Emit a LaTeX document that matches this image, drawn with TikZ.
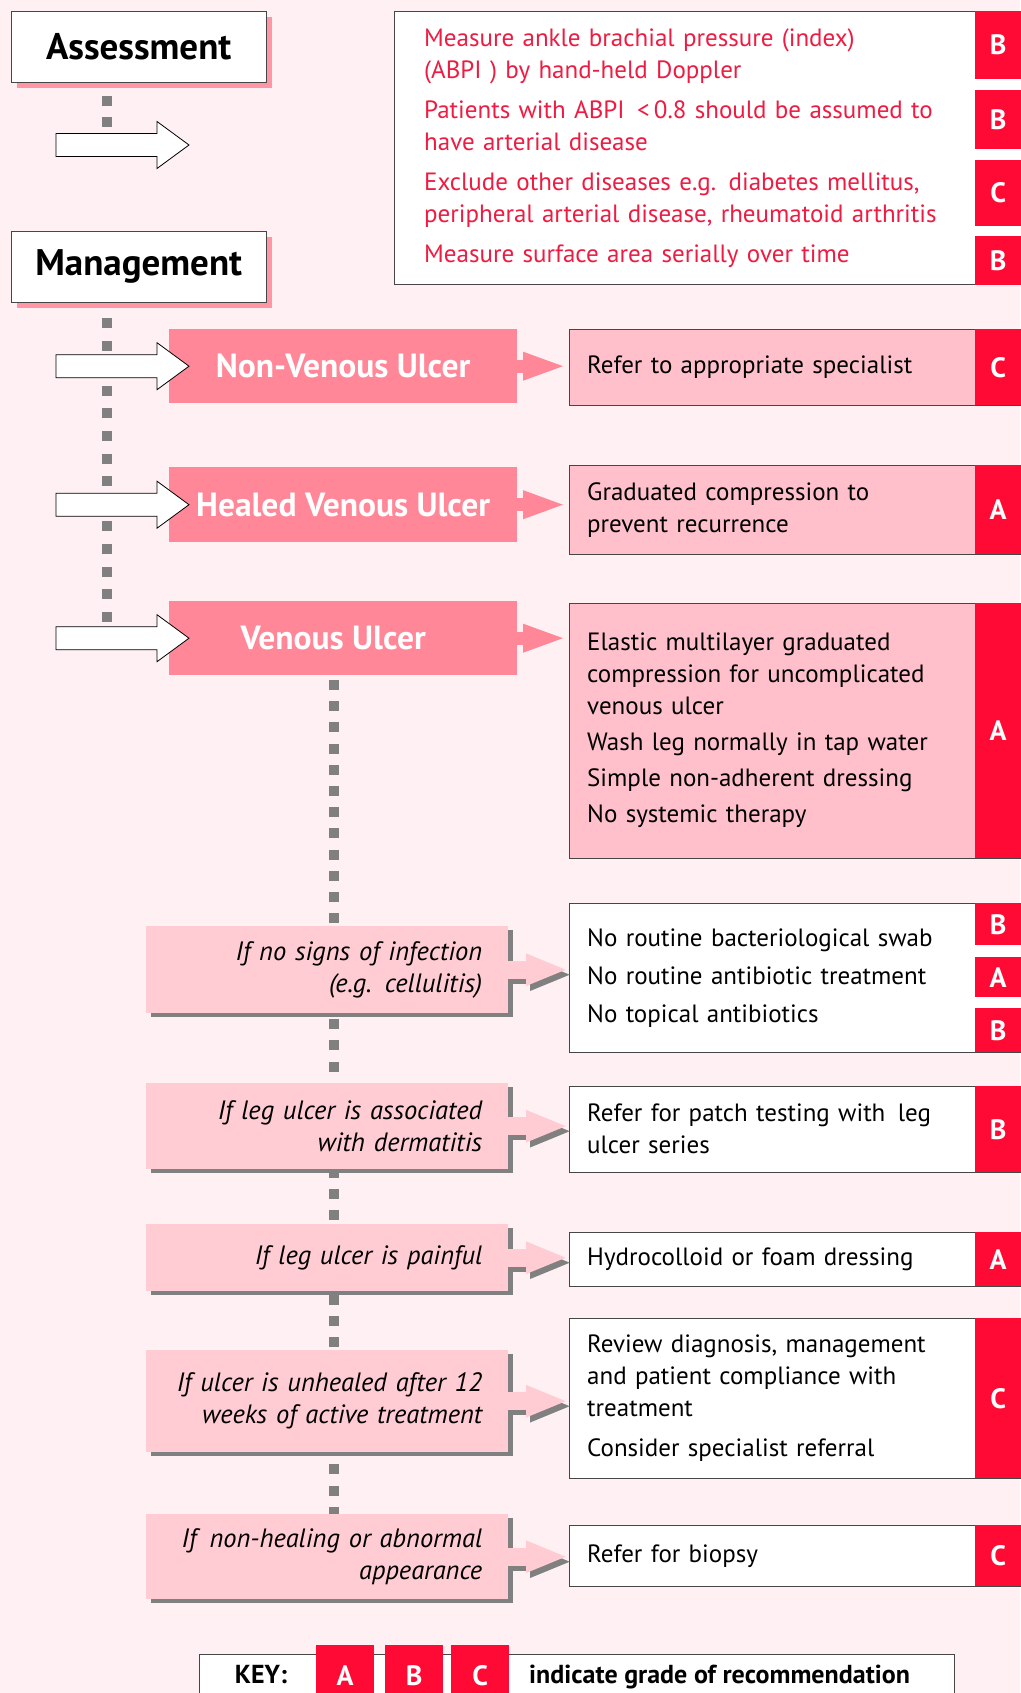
\documentclass[tikz,border=0pt]{standalone}
\usepackage{fontspec}
\setmainfont{PT Sans}
\usetikzlibrary{arrows.meta,shadows}

\definecolor{bgpink}{RGB}{255,240,243}
\definecolor{headpink}{RGB}{255,135,152}
\definecolor{lightpink}{RGB}{255,192,203}
\definecolor{condpink}{RGB}{255,204,212}
\definecolor{stagepink}{RGB}{255,150,166}
\definecolor{gradered}{RGB}{255,10,52}
\definecolor{textred}{RGB}{238,28,66}
\definecolor{dotgray}{RGB}{128,128,128}
\definecolor{edgegray}{RGB}{70,70,70}

\tikzset{
  stagebox/.style={draw=edgegray, fill=white, anchor=north west, inner sep=0pt,
    minimum width=255pt, minimum height=71pt,
    font=\fontsize{37}{42}\selectfont\bfseries,
    drop shadow={shadow xshift=6pt, shadow yshift=-6pt, fill=stagepink, opacity=1}},
  listbox/.style={draw=edgegray, fill=white, anchor=north west, inner xsep=30pt,
    inner ysep=0pt, align=left, text=textred, font=\fontsize{25}{32}\selectfont},
  headbox/.style={fill=headpink, text=white, anchor=north west, inner sep=0pt,
    minimum width=348pt, font=\fontsize{33.5}{36}\selectfont\bfseries},
  recbox/.style={draw=edgegray, fill=white, anchor=north west, inner xsep=18pt,
    inner ysep=0pt, minimum width=456pt, text width=420pt, align=left,
    font=\fontsize{25}{32}\selectfont},
  condbox/.style={fill=condpink, anchor=north west, inner xsep=26pt, inner ysep=0pt,
    minimum width=362pt, text width=310pt, align=right,
    font=\fontsize{26.5}{32}\selectfont\itshape,
    drop shadow={shadow xshift=5pt, shadow yshift=-4pt, fill=dotgray, opacity=1}},
  gradetag/.style={fill=gradered, text=white, anchor=north west, inner sep=0pt,
    minimum width=46pt, font=\fontsize{28}{28}\selectfont\bfseries},
  dotline/.style={draw=dotgray, line width=10pt},
  whitearrow/.style={draw=black, fill=white, line width=0.8pt},
  pinkarrow/.style={draw=headpink, line width=13pt, shorten >=2pt,
    -{Triangle[width=25pt,length=44pt]}},
  condarrow/.style={draw=condpink, line width=18pt, shorten >=1pt,
    -{Triangle[width=29pt,length=42pt]}}
}

\begin{document}
\begin{tikzpicture}[x=1pt, y=-1pt]
  \useasboundingbox (0,0) rectangle (1020,1693);
  \fill[bgpink] (0,0) rectangle (1020,1693);

  % dotted guide lines
  \coordinate (atop) at (107,96);
  \coordinate (abot) at (107,128);
  \coordinate (mtop) at (107,318);
  \coordinate (mbot) at (107,623);
  \coordinate (vtop) at (334,680);
  \coordinate (vbot) at (334,1516);
  \draw[dotline, dash pattern=on 10pt off 11pt] (atop) -- (abot);
  \draw[dotline, dash pattern=on 10pt off 12.6pt] (mtop) -- (mbot);
  \draw[dotline, dash pattern=on 10pt off 11.2pt] (vtop) -- (vbot);

  % stages
  \node[stagebox] (assess) at (11,11) {Assessment};
  \node[stagebox] (manage) at (11,231) {Management};

  % assessment
  \node[listbox, minimum width=631pt, minimum height=273pt, text width=571pt] (alist) at (394,11)
    {Measure ankle brachial pressure (index)\\ (ABPI ) by hand-held Doppler\\[8pt]
     Patients with ABPI \,<\,0.8 should be assumed to\\ have arterial disease\\[8pt]
     Exclude other diseases e.g. diabetes mellitus,\\ peripheral arterial disease, rheumatoid arthritis\\[8pt]
     Measure surface area serially over time};

  % ulcer types
  \node[headbox, minimum height=74pt] (nvu) at (169,329) {Non-Venous Ulcer};
  \node[headbox, minimum height=75pt] (hvu) at (169,467) {Healed Venous Ulcer};
  \node[headbox, minimum height=74pt] (vu) at (169,601) {\hspace*{-20pt}Venous Ulcer};

  \node[recbox, fill=lightpink, minimum height=76pt] (rnvu) at (569,329)
    {Refer to appropriate specialist};
  \node[recbox, fill=lightpink, minimum height=89pt] (rhvu) at (569,465)
    {Graduated compression to\\ prevent recurrence};
  \node[recbox, fill=lightpink, minimum height=255pt] (rvu) at (569,603)
    {Elastic multilayer graduated\\ compression for uncomplicated\\ venous ulcer\\[4pt]
     Wash leg normally in tap water\\[4pt] Simple non-adherent dressing\\[4pt]
     No systemic therapy};

  % conditions
  \node[condbox, minimum height=87pt] (cinf) at (146,926) {If no signs of infection\\ (e.g. cellulitis)};
  \node[condbox, minimum height=86pt] (cderm) at (146,1083) {If leg ulcer is associated\\ with dermatitis};
  \node[condbox, minimum height=67pt] (cpain) at (146,1224) {If leg ulcer is painful};
  \node[condbox, minimum height=102pt] (cunh) at (146,1350) {If ulcer is unhealed after 12\\ weeks of active treatment};
  \node[condbox, minimum height=85pt] (cabn) at (146,1514) {If \,non-healing or abnormal\\ appearance};

  \node[recbox, minimum height=149pt] (rinf) at (569,903)
    {No routine bacteriological swab\\[6pt] No routine antibiotic treatment\\[6pt] No topical antibiotics};
  \node[recbox, minimum height=86pt] (rderm) at (569,1086)
    {Refer for patch testing with \,leg\\ ulcer series};
  \node[recbox, minimum height=54pt] (rpain) at (569,1232) {Hydrocolloid or foam dressing};
  \node[recbox, minimum height=160pt] (runh) at (569,1318)
    {Review diagnosis, management\\ and patient compliance with\\ treatment\\[8pt] Consider specialist referral};
  \node[recbox, minimum height=61pt] (rabn) at (569,1525) {Refer for biopsy};

  % grades
  \foreach \y/\h/\g in {11/68/B, 90/59/B, 160/66/C, 236/49/B, 329/76/C, 465/89/A,
      603/255/A, 903/42/B, 957/40/A, 1008/44/B, 1086/86/B, 1232/54/A, 1318/160/C, 1525/61/C}
    \node[gradetag, minimum height=\h pt] (tag\y) at (975,\y) {\g};

  % arrows
  \coordinate (aarrow) at (169,145);
  \foreach \b in {aarrow,nvu,hvu,vu}
    \draw[whitearrow, shift={(\b.west)}] (-113,-11.5) -- (-12,-11.5) -- (-12,-23.5)
      -- (20,0) -- (-12,23.5) -- (-12,11.5) -- (-113,11.5) -- cycle;
  \foreach \a/\r in {nvu/rnvu, hvu/rhvu, vu/rvu}
    \draw[pinkarrow] (\a.east) -- (\a.east -| \r.west);
  \foreach \c/\r in {cinf/rinf, cderm/rderm, cpain/rpain, cunh/runh, cabn/rabn} {
    \draw[condarrow, draw=dotgray] ([shift={(4pt,-5pt)}]\c.east) -- ([shift={(4pt,-5pt)}]\c.east -| \r.west);
    \draw[condarrow] (\c.east) -- (\c.east -| \r.west);
  }

  % key
  \node[draw=edgegray, fill=white, anchor=north west, minimum width=755pt,
    minimum height=60pt, inner sep=0pt] (keybox) at (199,1654) {};
  \foreach \x/\g in {316/A, 385/B, 451/C}
    \node[gradetag, minimum width=58pt, minimum height=60pt] (key\g) at (\x,1645) {\g};
  \node[anchor=base, inner sep=0pt, font=\fontsize{26}{26}\selectfont\bfseries] (keyname) at (261,1683) {KEY:};
  \node[anchor=base west, inner sep=0pt, font=\fontsize{26}{26}\selectfont\bfseries] (keytext) at (529,1683)
    {indicate grade of recommendation};
\end{tikzpicture}
\end{document}
